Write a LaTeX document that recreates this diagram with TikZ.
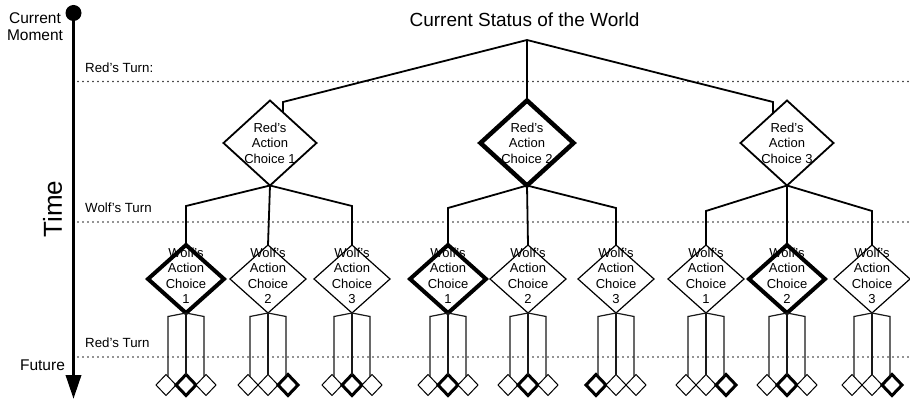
\documentclass[tikz,border=0pt]{standalone}
\usepackage{fontspec}
\setmainfont{Liberation Sans}
\usetikzlibrary{shapes.geometric,arrows.meta}
\begin{document}
\begin{tikzpicture}[x=1pt,y=-1pt,
  conn/.style={line width=1.8pt, line join=miter},
  thinline/.style={line width=1.2pt, black!90},
  dotline/.style={line width=1.6pt, dash pattern=on 0pt off 5pt, line cap=round, black!85},
  dia/.style={draw, shape=diamond, inner sep=0pt, outer sep=0pt, fill=white},
  reddia/.style={dia, minimum width=93pt, minimum height=85pt},
  wolfdia/.style={dia, minimum width=76pt, minimum height=68pt},
  leafdia/.style={dia, minimum width=20pt, minimum height=21pt},
  lbl/.style={font=\fontsize{13}{15.5}\selectfont, align=center, inner sep=0pt},
  turn/.style={font=\fontsize{13.3}{15}\selectfont, anchor=base west, inner sep=0pt},
  side/.style={font=\fontsize{15.5}{17}\selectfont, anchor=base, inner sep=0pt}
]
\useasboundingbox (0,0) rectangle (910,403);

% time axis
\node[circle, fill, inner sep=0pt, minimum size=16pt] (now) at (73.5,13) {};
\coordinate (later) at (73.5,399);
\draw[line width=3.5pt, -{Triangle[width=15pt,length=24pt]}] (now.center) -- (later);
\node[side] (cur) at (35,23.5) {Current};
\node[side] (mom) at (35,41) {Moment};
\node[side] (fut) at (42.5,370) {Future};
\node[font=\fontsize{26}{28}\selectfont, rotate=90, inner sep=0pt] (time) at (52.5,209) {Time};

% turn lines
\coordinate (d1s) at (78,81.5); \coordinate (d1e) at (910,81.5);
\coordinate (d2s) at (78,222);  \coordinate (d2e) at (910,222);
\coordinate (d3s) at (78,357);  \coordinate (d3e) at (910,357);
\draw[dotline] (d1s) -- (d1e);
\draw[dotline] (d2s) -- (d2e);
\draw[dotline] (d3s) -- (d3e);
\node[turn] (t1) at (85,72.5) {Red’s Turn:};
\node[turn] (t2) at (85,212.5) {Wolf’s Turn};
\node[turn] (t3) at (85,347) {Red’s Turn};

% title and root
\node[font=\fontsize{19}{20}\selectfont, anchor=base, inner sep=0pt] (title) at (524.5,27) {Current Status of the World};
\coordinate (root) at (527,40);

% red choices
\node[reddia, line width=1.8pt] (r1) at (270,143) {};
\node[reddia, line width=4.5pt] (r2) at (527,143) {};
\node[reddia, line width=1.8pt] (r3) at (787,143) {};
\node[lbl] at (270,143) {Red’s\\Action\\Choice 1};
\node[lbl] at (527,143) {Red’s\\Action\\Choice 2};
\node[lbl] at (787,143) {Red’s\\Action\\Choice 3};

\coordinate (e1) at (283,102); \coordinate (k1) at (283,112);
\coordinate (e3) at (773,102); \coordinate (k3) at (773,113.3);
\draw[conn] (root) -- (e1) -- (k1);
\draw[conn] (root) -- (r2.north);
\draw[conn] (root) -- (e3) -- (k3);

% wolf choices and leaves
\foreach \g/\cy/\wa/\wb/\wc/\tw/\la/\lb/\lc in
  {1/206/186/268/352/1/2/3/2,
   2/208/448/528/616/1/2/2/1,
   3/211/706/787/872/2/3/2/3}{
  \foreach \i/\wx/\tl in {1/\wa/\la,2/\wb/\lb,3/\wc/\lc}{
    \node[wolfdia, line width={(\i==\tw)?4:1.2}] (w\g\i) at (\wx,279) {};
    \foreach \j/\dx in {1/-20,2/0,3/20}{
      \node[leafdia, line width={(\j==\tl)?3:1}] (l\g\i\j) at ({\wx+\dx},385) {};
    }
    \coordinate (cl\g\i) at ({\wx-18},316.5);
    \coordinate (cr\g\i) at ({\wx+18},316.5);
    \coordinate (el\g\i) at ({\wx-18},376.5);
    \coordinate (er\g\i) at ({\wx+18},376.5);
    \draw[thinline] (w\g\i.south) -- (cl\g\i) -- (el\g\i);
    \draw[thinline] (w\g\i.south) -- (l\g\i2.north);
    \draw[thinline] (w\g\i.south) -- (cr\g\i) -- (er\g\i);
    \node[lbl] at (\wx,276) {Wolf’s\\Action\\Choice\\\i};
  }
  \draw[conn] (r\g.south) -- (w\g1.north |- 0,\cy) -- (w\g1.north);
  \draw[conn] (r\g.south) -- (w\g2.north);
  \draw[conn] (r\g.south) -- (w\g3.north |- 0,\cy) -- (w\g3.north);
}
\end{tikzpicture}
\end{document}
